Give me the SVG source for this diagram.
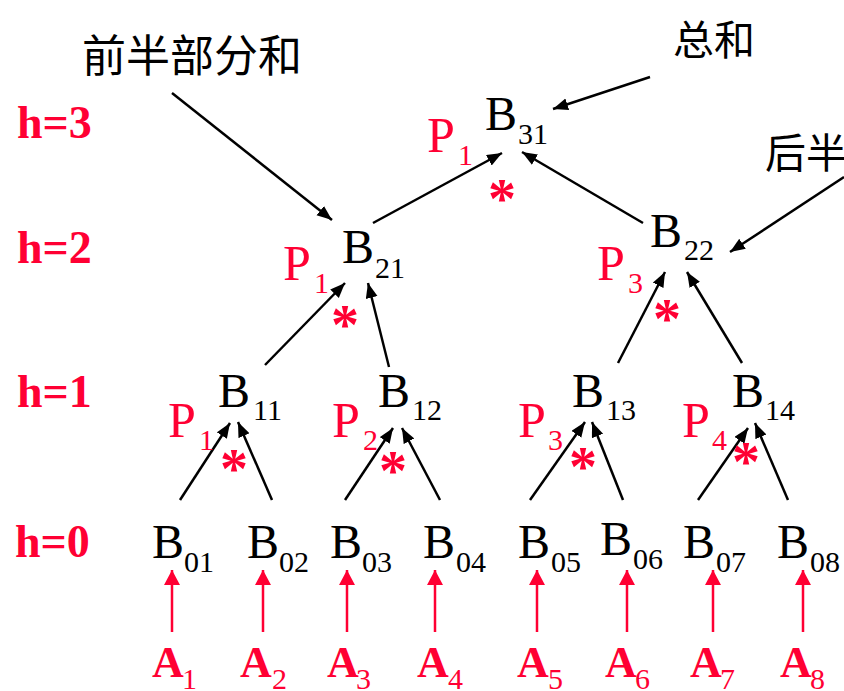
<svg xmlns="http://www.w3.org/2000/svg" width="844" height="691" viewBox="0 0 844 691">
<defs>
<marker id="ab" markerUnits="userSpaceOnUse" markerWidth="16" markerHeight="14" refX="15" refY="6" orient="auto"><path d="M0,0 L15,6 L0,12 Z" fill="#000"/></marker>
<marker id="ar" markerUnits="userSpaceOnUse" markerWidth="16" markerHeight="18" refX="15" refY="8" orient="auto"><path d="M0,0 L15,8 L0,16 Z" fill="#ff0033"/></marker>
</defs>
<style>
text{font-family:"Liberation Serif","Times New Roman","DejaVu Serif",serif}
.b{font-size:48px;fill:#000}
.s{font-size:30px;fill:#000}
.p{font-size:50px;fill:#ff0033}
.ps{font-size:30px;fill:#ff0033}
.h{font-size:46px;font-weight:bold;fill:#ff0033}
.a{font-size:44px;font-weight:bold;fill:#ff0033}
.st{font-size:56px;font-weight:bold;fill:#ff0033;text-anchor:middle}
text.c{font-family:"Noto Sans CJK SC",sans-serif;fill:#000}
.k{stroke:#000;stroke-width:2.5;fill:none;marker-end:url(#ab)}
.r{stroke:#ff0033;stroke-width:2.5;fill:none;marker-end:url(#ar)}
</style>
<g id="levels">
<text class="h" x="17" y="138">h=3</text>
<text class="h" x="17" y="263">h=2</text>
<text class="h" x="17" y="407">h=1</text>
<text class="h" x="15" y="557">h=0</text>
</g>
<g id="labels">
<text class="c" x="82" y="72" font-size="44">前半部分和</text>
<text class="c" x="673" y="55" font-size="41">总和</text>
<text class="c" x="765" y="168" font-size="41">后半</text>
</g>
<g id="connectors">
<line class="k" x1="172" y1="93" x2="332" y2="220"/>
<line class="k" x1="650" y1="77" x2="553" y2="109"/>
<line class="k" x1="844" y1="177" x2="730" y2="252"/>
<line class="k" x1="373" y1="223" x2="502" y2="153"/>
<line class="k" x1="643" y1="223" x2="522" y2="152"/>
<line class="k" x1="265" y1="365" x2="345" y2="283"/>
<line class="k" x1="389" y1="367" x2="368" y2="283"/>
<line class="k" x1="618" y1="363" x2="665" y2="272"/>
<line class="k" x1="742" y1="363" x2="687" y2="272"/>
<line class="k" x1="180" y1="500" x2="230" y2="423"/>
<line class="k" x1="272" y1="500" x2="238" y2="422"/>
<line class="k" x1="345" y1="500" x2="393" y2="428"/>
<line class="k" x1="440" y1="500" x2="402" y2="428"/>
<line class="k" x1="530" y1="500" x2="585" y2="422"/>
<line class="k" x1="623" y1="500" x2="592" y2="422"/>
<line class="k" x1="698" y1="500" x2="748" y2="428"/>
<line class="k" x1="788" y1="500" x2="755" y2="423"/>
<line class="r" x1="172" y1="632" x2="172" y2="570"/>
<line class="r" x1="263" y1="632" x2="263" y2="570"/>
<line class="r" x1="347" y1="632" x2="347" y2="570"/>
<line class="r" x1="435" y1="632" x2="435" y2="570"/>
<line class="r" x1="537" y1="632" x2="537" y2="570"/>
<line class="r" x1="627" y1="632" x2="627" y2="570"/>
<line class="r" x1="713" y1="632" x2="713" y2="570"/>
<line class="r" x1="803" y1="632" x2="803" y2="570"/>
</g>
<g id="B31"><text class="b" x="485" y="130">B</text><text class="s" x="518" y="144">31</text><text class="p" x="427" y="152">P</text><text class="ps" x="458" y="165">1</text><text class="st" x="502" y="218">*</text></g>
<g id="B21"><text class="b" x="342" y="263">B</text><text class="s" x="375" y="278">21</text><text class="p" x="283" y="280">P</text><text class="ps" x="314" y="293">1</text><text class="st" x="345" y="344">*</text></g>
<g id="B22"><text class="b" x="650" y="247">B</text><text class="s" x="684" y="260">22</text><text class="p" x="597" y="280">P</text><text class="ps" x="628" y="293">3</text><text class="st" x="667" y="338">*</text></g>
<g id="B11"><text class="b" x="218" y="407">B</text><text class="s" x="253" y="420">11</text><text class="p" x="168" y="437">P</text><text class="ps" x="199" y="450">1</text><text class="st" x="234" y="488">*</text></g>
<g id="B12"><text class="b" x="378" y="407">B</text><text class="s" x="412" y="420">12</text><text class="p" x="332" y="437">P</text><text class="ps" x="363" y="450">2</text><text class="st" x="393" y="490">*</text></g>
<g id="B13"><text class="b" x="572" y="407">B</text><text class="s" x="606" y="420">13</text><text class="p" x="518" y="437">P</text><text class="ps" x="548" y="450">3</text><text class="st" x="583" y="486">*</text></g>
<g id="B14"><text class="b" x="732" y="407">B</text><text class="s" x="765" y="420">14</text><text class="p" x="682" y="437">P</text><text class="ps" x="712" y="450">4</text><text class="st" x="746" y="481">*</text></g>
<g id="B01"><text class="b" x="152" y="558">B</text><text class="s" x="184" y="572">01</text></g>
<g id="B02"><text class="b" x="247" y="558">B</text><text class="s" x="279" y="572">02</text></g>
<g id="B03"><text class="b" x="330" y="558">B</text><text class="s" x="362" y="572">03</text></g>
<g id="B04"><text class="b" x="423" y="558">B</text><text class="s" x="456" y="572">04</text></g>
<g id="B05"><text class="b" x="518" y="558">B</text><text class="s" x="551" y="572">05</text></g>
<g id="B06"><text class="b" x="600" y="555">B</text><text class="s" x="633" y="569">06</text></g>
<g id="B07"><text class="b" x="683" y="558">B</text><text class="s" x="716" y="572">07</text></g>
<g id="B08"><text class="b" x="777" y="558">B</text><text class="s" x="810" y="572">08</text></g>
<g id="A1"><text class="a" x="152" y="677">A</text><text class="ps" x="182" y="689">1</text></g>
<g id="A2"><text class="a" x="240" y="677">A</text><text class="ps" x="272" y="689">2</text></g>
<g id="A3"><text class="a" x="327" y="677">A</text><text class="ps" x="356" y="689">3</text></g>
<g id="A4"><text class="a" x="417" y="677">A</text><text class="ps" x="448" y="689">4</text></g>
<g id="A5"><text class="a" x="517" y="677">A</text><text class="ps" x="548" y="689">5</text></g>
<g id="A6"><text class="a" x="605" y="677">A</text><text class="ps" x="635" y="689">6</text></g>
<g id="A7"><text class="a" x="690" y="677">A</text><text class="ps" x="720" y="689">7</text></g>
<g id="A8"><text class="a" x="780" y="677">A</text><text class="ps" x="810" y="689">8</text></g>
</svg>
